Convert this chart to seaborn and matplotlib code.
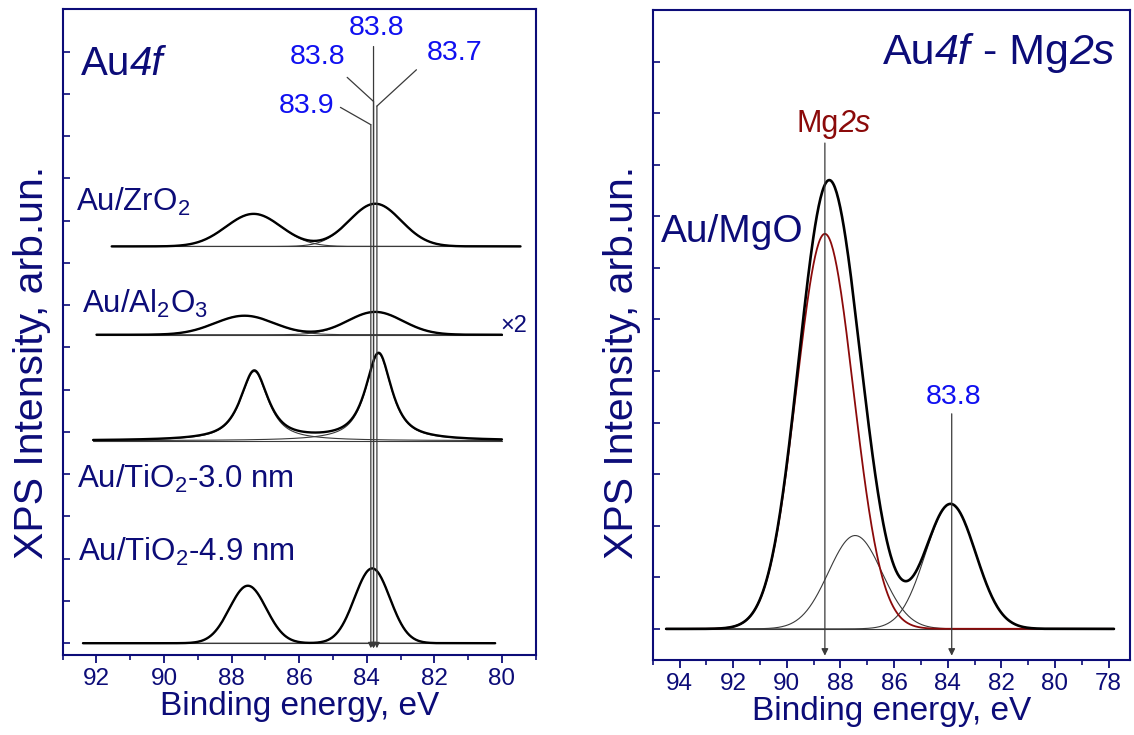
import matplotlib
matplotlib.use("Agg")
import matplotlib.pyplot as plt
from matplotlib.ticker import MultipleLocator
import numpy as np
import pandas as pd
import seaborn as sns

# ---- left panel: Au4f spectra, bottom to top ----
samples = ["Au/TiO$_2$-4.9 nm", "Au/TiO$_2$-3.0 nm", "Au/Al$_2$O$_3$", "Au/ZrO$_2$"]
baselines = [0.0, 4.79, 7.30, 9.39]
be_start = [92.4, 92.1, 92.0, 91.55]
be_end = [80.2, 80.0, 80.0, 79.45]
f72_pos = [83.84, 83.65, 83.75, 83.75]
f72_height = [1.77, 2.06, 0.54, 1.01]
f72_fwhm = [1.23, 0.92, 1.92, 1.80]
f52_pos = [87.52, 87.33, 87.62, 87.35]
f52_height = [1.36, 1.64, 0.45, 0.77]
f52_fwhm = [1.28, 0.98, 2.07, 1.92]
lorentz_share = [0.0, 0.85, 0.0, 0.0]
shift_values = [83.9, 83.8, 83.8, 83.7]

# ---- right panel: Au4f - Mg2s on MgO ----
mgo_names = ["Au4f7/2", "Au4f5/2", "Mg2s"]
mgo_pos = [83.89, 87.45, 88.58]
mgo_height = [2.42, 1.81, 7.66]
mgo_fwhm = [2.2, 2.35, 2.5]
mgo_range = [94.5, 77.8]

navy = "#0c0c78"
blue = "#1010f0"
dark_red = "#8b0a0a"
line_gray = "#3a3a3a"


def profile(x, pos, height, fwhm, eta=0.0):
    g = np.exp(-4 * np.log(2) * ((x - pos) / fwhm) ** 2)
    l = 1 / (1 + 4 * ((x - pos) / fwhm) ** 2)
    return height * ((1 - eta) * g + eta * l)


def rich_text(ax, x, y, pieces, **kw):
    # pieces: list of (text, fontstyle), drawn one after another on the same baseline
    t = ax.text(x, y, pieces[0][0], style=pieces[0][1], va="baseline", **kw)
    for s, st in pieces[1:]:
        t = ax.annotate(s, xy=(1, 0), xycoords=t, va="bottom", ha="left", style=st, **kw)
    return t


sns.set_style("ticks")
plt.rcParams["font.family"] = ["Liberation Sans", "DejaVu Sans"]
plt.rcParams["mathtext.fontset"] = "custom"
plt.rcParams["mathtext.rm"] = "Liberation Sans"
plt.rcParams["mathtext.it"] = "Liberation Sans:italic"
plt.rcParams["mathtext.bf"] = "Liberation Sans:bold"

fig = plt.figure(figsize=(11.34, 7.35), dpi=100)
ax1 = fig.add_axes([0.0553, 0.1088, 0.4171, 0.8785])
ax2 = fig.add_axes([0.5756, 0.1016, 0.4209, 0.8848])

# build the curves as a long table
rows = []
for i, name in enumerate(samples):
    x = np.linspace(be_end[i], be_start[i], 400)
    b = baselines[i]
    c1 = profile(x, f72_pos[i], f72_height[i], f72_fwhm[i], lorentz_share[i])
    c2 = profile(x, f52_pos[i], f52_height[i], f52_fwhm[i], lorentz_share[i])
    for kind, y in [("base", np.full_like(x, b)), ("c1", b + c1), ("c2", b + c2), ("env", b + c1 + c2)]:
        rows.append(pd.DataFrame({"be": x, "intensity": y, "curve": kind, "sample": name}))
left_df = pd.concat(rows, ignore_index=True)

styles = {"base": (line_gray, 0.8), "c1": (line_gray, 0.8), "c2": (line_gray, 0.8), "env": ("black", 1.7)}
for (name, kind), sub in left_df.groupby(["sample", "curve"]):
    col, lw = styles[kind]
    sns.lineplot(data=sub, x="be", y="intensity", ax=ax1, color=col, lw=lw, estimator=None)

xr = np.linspace(mgo_range[1], mgo_range[0], 500)
comps = [profile(xr, p, h, w) for p, h, w in zip(mgo_pos, mgo_height, mgo_fwhm)]
right_df = pd.concat(
    [pd.DataFrame({"be": xr, "intensity": c, "curve": n}) for n, c in zip(mgo_names, comps)]
    + [pd.DataFrame({"be": xr, "intensity": sum(comps), "curve": "env"}),
       pd.DataFrame({"be": xr, "intensity": 0.0 * xr, "curve": "base"})],
    ignore_index=True,
)
right_styles = {"Au4f7/2": (line_gray, 0.8), "Au4f5/2": (line_gray, 0.8), "Mg2s": (dark_red, 1.3),
                "base": (line_gray, 0.8), "env": ("black", 1.9)}
for kind in ["base", "Au4f7/2", "Au4f5/2", "Mg2s", "env"]:
    col, lw = right_styles[kind]
    sns.lineplot(data=right_df[right_df["curve"] == kind], x="be", y="intensity",
                 ax=ax2, color=col, lw=lw, estimator=None)

# axis styling
for ax in (ax1, ax2):
    for s in ax.spines.values():
        s.set_color(navy)
        s.set_linewidth(1.5)
    ax.xaxis.set_major_locator(MultipleLocator(2))
    ax.xaxis.set_minor_locator(MultipleLocator(1))
    ax.yaxis.set_major_locator(MultipleLocator(1))
    ax.tick_params(axis="x", which="major", direction="out", length=6, width=1.3,
                   color=navy, labelcolor=navy, labelsize=17.5, pad=3)
    ax.tick_params(axis="x", which="minor", direction="out", length=3.5, width=1.2, color=navy)
    ax.tick_params(axis="y", which="major", direction="in", length=5, width=1.2,
                   color=navy, labelleft=False)
    ax.set_xlabel("Binding energy, eV", fontsize=24, color=navy, labelpad=1)
    ax.set_ylabel("")
    ax.grid(False)

ax1.set_xlim(93, 79)
ax1.set_ylim(-0.28, 15.0)
ax2.set_xlim(95, 77.2)
ax2.set_ylim(-0.61, 12.0)

fig.text(0.028, 0.507, "XPS Intensity, arb.un.", rotation=90, ha="center", va="center",
         fontsize=29.5, color=navy)
fig.text(0.5485, 0.507, "XPS Intensity, arb.un.", rotation=90, ha="center", va="center",
         fontsize=29.5, color=navy)

# left panel text
rich_text(ax1, 92.47, 13.45, [("Au", "normal"), ("4f", "italic")], fontsize=29, color=navy)
label_xy = [(92.55, 1.955), (92.59, 3.67), (92.42, 7.82), (92.6, 10.24)]
for name, (lx, ly) in zip(samples, label_xy):
    ax1.text(lx, ly, name, fontsize=22.5, color=navy)
ax1.text(80.05, 7.37, "×2", fontsize=17, color=navy)

# peak position markers (vertical lines with arrows)
line_tops = [12.27, 12.82, 14.12, 12.71]
line_x = [83.88, 83.80, 83.80, 83.70]
for lx, top in zip(line_x, line_tops):
    ax1.annotate("", xy=(lx, -0.12), xytext=(lx, top),
                 arrowprops=dict(arrowstyle="-|>", color=line_gray, lw=0.9,
                                 mutation_scale=8, shrinkA=0, shrinkB=0))
ax1.plot([83.88, 84.78], [12.27, 12.68], color=line_gray, lw=0.9)
ax1.plot([83.80, 84.58], [12.82, 13.39], color=line_gray, lw=0.9)
ax1.plot([83.70, 82.53], [12.71, 13.57], color=line_gray, lw=0.9)
value_xy = [(85.79, 12.54), (85.47, 13.70), (83.70, 14.39), (81.41, 13.80)]
for v, (tx, ty) in zip(shift_values, value_xy):
    ax1.text(tx, ty, f"{v:.1f}", fontsize=20.5, color=blue, ha="center", va="baseline")

# right panel text
rich_text(ax2, 86.43, 10.96, [("Au", "normal"), ("4f", "italic"), (" - Mg", "normal"), ("2s", "italic")],
          fontsize=31, color=navy)
ax2.text(94.68, 7.5, "Au/MgO", fontsize=28, color=navy)
rich_text(ax2, 89.65, 9.63, [("Mg", "normal"), ("2s", "italic")], fontsize=22, color=dark_red)
ax2.text(83.77, 4.36, "83.8", fontsize=20.5, color=blue, ha="center")
ax2.annotate("", xy=(mgo_pos[2], -0.52), xytext=(mgo_pos[2], 9.42),
             arrowprops=dict(arrowstyle="-|>", color=line_gray, lw=0.9,
                             mutation_scale=10, shrinkA=0, shrinkB=0))
ax2.annotate("", xy=(83.85, -0.52), xytext=(83.85, 4.17),
             arrowprops=dict(arrowstyle="-|>", color=line_gray, lw=0.9,
                             mutation_scale=10, shrinkA=0, shrinkB=0))

fig.savefig("out.png", dpi=100)
